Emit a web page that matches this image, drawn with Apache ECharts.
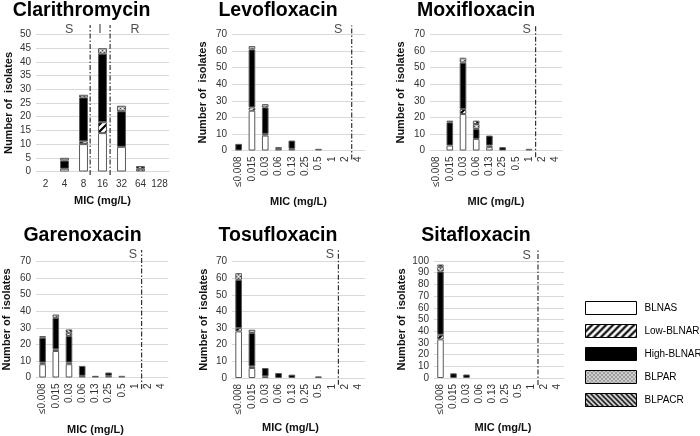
<!DOCTYPE html>
<html><head><meta charset="utf-8">
<script src="https://cdn.jsdelivr.net/npm/echarts@6/dist/echarts.min.js"></script>
<style>html,body{margin:0;padding:0;background:#fff}#c{width:700px;height:436px}</style>
</head><body><div id="c"></div>
<script>
// ---- Data ----
const typeNames = ['BLNAS', 'Low-BLNAR', 'High-BLNAR', 'BLPAR', 'BLPACR'];
const drugNames = ['Clarithromycin', 'Levofloxacin', 'Moxifloxacin', 'Garenoxacin', 'Tosufloxacin', 'Sitafloxacin'];
const clarCats = ['2', '4', '8', '16', '32', '64', '128'];
const fqCats = ['≤0.008', '0.015', '0.03', '0.06', '0.13', '0.25', '0.5', '1', '2', '4'];
const clarTicksMax = 50, clarTickStep = 5;
const fqTicksMax = 70, fqTickStep = 10;
const sitaTicksMax = 100, sitaTickStep = 10;

const clarBLNAS  = [0, 1, 10, 14, 9, 0, 0];
const clarLow    = [0, 0, 1, 4, 0, 0, 0];
const clarHigh   = [0, 3, 16, 25, 13, 0, 0];
const clarBLPAR  = [0, 1, 1, 2, 2, 1, 0];
const clarBLPACR = [0, 0, 0, 0, 0, 1, 0];

const levoBLNAS  = [0, 24, 9, 1, 1, 0, 1, 0, 0, 0];
const levoLow    = [0, 2, 1, 0, 0, 0, 0, 0, 0, 0];
const levoHigh   = [4, 35, 16, 1, 5, 0, 0, 0, 0, 0];
const levoBLPAR  = [0, 2, 2, 0, 0, 0, 0, 0, 0, 0];
const levoBLPACR = [0, 0, 0, 0, 0, 0, 0, 0, 0, 0];

const moxiBLNAS  = [0, 3, 22, 7, 2, 0, 0, 1, 0, 0];
const moxiLow    = [0, 0, 3, 0, 1, 0, 0, 0, 0, 0];
const moxiHigh   = [0, 14, 28, 6, 6, 2, 0, 0, 0, 0];
const moxiBLPAR  = [0, 1, 3, 3, 0, 0, 0, 0, 0, 0];
const moxiBLPACR = [0, 0, 0, 2, 0, 0, 0, 0, 0, 0];

const gareBLNAS  = [8, 16, 8, 1, 0, 1, 1, 0, 0, 0];
const gareLow    = [1, 1, 1, 0, 0, 0, 0, 0, 0, 0];
const gareHigh   = [15, 19, 16, 6, 1, 2, 0, 0, 0, 0];
const gareBLPAR  = [1, 2, 2, 0, 0, 0, 0, 0, 0, 0];
const gareBLPACR = [0, 0, 2, 0, 0, 0, 0, 0, 0, 0];

const tosuBLNAS  = [28, 6, 1, 0, 0, 0, 1, 0, 0, 0];
const tosuLow    = [2, 1, 0, 0, 0, 0, 0, 0, 0, 0];
const tosuHigh   = [29, 20, 5, 3, 2, 0, 0, 0, 0, 0];
const tosuBLPAR  = [4, 2, 0, 0, 0, 0, 0, 0, 0, 0];
const tosuBLPACR = [0, 0, 0, 0, 0, 0, 0, 0, 0, 0];

const sitaBLNAS  = [33, 0, 0, 0, 0, 0, 0, 0, 0, 0];
const sitaLow    = [4, 0, 0, 0, 0, 0, 0, 0, 0, 0];
const sitaHigh   = [54, 4, 3, 0, 0, 0, 0, 0, 0, 0];
const sitaBLPAR  = [4, 0, 0, 0, 0, 0, 0, 0, 0, 0];
const sitaBLPACR = [2, 0, 0, 0, 0, 0, 0, 0, 0, 0];

// breakpoint lines (position in category-boundary units) and zone labels
const clarBreaks = [2.85, 3.9];
const levoBreaks = [9];
const moxiBreaks = [8];
const gareBreaks = [8];
const tosuBreaks = [8];
const sitaBreaks = [8];
const clarZones = ['S', 'I', 'R'];
const fqZones = ['S'];

// ---- Layout (not data) ----
const layout = [
  {left: 36,  top: 34.5, w: 133, h: 137, rot: 0,  xGap: 24,   xPad: [0,0,0,0],  yGap: 22, lineLo: -1.3, lineHi: 53.5, zoneX: [1.75, 3.37, 5.21], zoneY: 51.9, tx: 81.5, ty: 11},
  {left: 232, top: 34.5, w: 133, h: 116, rot: 90, xGap: 46,   xPad: [0,0,0,0],  yGap: 24, lineLo: -5.5, lineHi: 75.4, zoneX: [7.99], zoneY: 72.8, tx: 278, ty: 11},
  {left: 430, top: 34.5, w: 132, h: 116, rot: 90, xGap: 46,   xPad: [0,0,0,0],  yGap: 24, lineLo: -4,   lineHi: 75.4, zoneX: [7.33], zoneY: 72.8, tx: 476, ty: 11},
  {left: 35,  top: 261.5, w: 133, h: 116.5, rot: 90, xGap: 46.5, xPad: [0,13,0,0], yGap: 24, lineLo: -7, lineHi: 77, zoneX: [7.35], zoneY: 73.9, tx: 82.5, ty: 236},
  {left: 232, top: 261.5, w: 133, h: 116.5, rot: 90, xGap: 44.5, xPad: [0,16,0,0], yGap: 23, lineLo: -4, lineHi: 77, zoneX: [7.37], zoneY: 73.9, tx: 278, ty: 236},
  {left: 434, top: 261, w: 130, h: 117, rot: 90, xGap: 44.5, xPad: [0,0,0,8], yGap: 27, lineLo: -6, lineHi: 109, zoneX: [7.13], zoneY: 105, tx: 476, ty: 236}
];

const panels = [
  {cats: clarCats, max: clarTicksMax, step: clarTickStep, vals: [clarBLNAS, clarLow, clarHigh, clarBLPAR, clarBLPACR], breaks: clarBreaks, zones: clarZones},
  {cats: fqCats, max: fqTicksMax, step: fqTickStep, vals: [levoBLNAS, levoLow, levoHigh, levoBLPAR, levoBLPACR], breaks: levoBreaks, zones: fqZones},
  {cats: fqCats, max: fqTicksMax, step: fqTickStep, vals: [moxiBLNAS, moxiLow, moxiHigh, moxiBLPAR, moxiBLPACR], breaks: moxiBreaks, zones: fqZones},
  {cats: fqCats, max: fqTicksMax, step: fqTickStep, vals: [gareBLNAS, gareLow, gareHigh, gareBLPAR, gareBLPACR], breaks: gareBreaks, zones: fqZones},
  {cats: fqCats, max: fqTicksMax, step: fqTickStep, vals: [tosuBLNAS, tosuLow, tosuHigh, tosuBLPAR, tosuBLPACR], breaks: tosuBreaks, zones: fqZones},
  {cats: fqCats, max: sitaTicksMax, step: sitaTickStep, vals: [sitaBLNAS, sitaLow, sitaHigh, sitaBLPAR, sitaBLPACR], breaks: sitaBreaks, zones: fqZones}
];

// ---- Patterns ----
function pat(size, draw) {
  const c = document.createElement('canvas');
  c.width = size; c.height = size;
  const g = c.getContext('2d');
  g.fillStyle = '#fff'; g.fillRect(0, 0, size, size);
  draw(g, size);
  return {image: c, repeat: 'repeat'};
}
const lowPat = pat(7, (g, s) => {
  g.strokeStyle = '#000'; g.lineWidth = 2.2; g.beginPath();
  g.moveTo(-1, s + 1); g.lineTo(s + 1, -1);
  g.moveTo(-2, 2); g.lineTo(2, -2);
  g.moveTo(s - 2, s + 2); g.lineTo(s + 2, s - 2);
  g.stroke();
});
const parPat = pat(4, (g, s) => {
  g.fillStyle = '#bdbdbd'; g.fillRect(0, 0, s, s);
  g.fillStyle = '#444'; g.fillRect(0, 0, 1, 1); g.fillRect(2, 2, 1, 1);
  g.fillStyle = '#fff'; g.fillRect(2, 0, 1, 1); g.fillRect(0, 2, 1, 1);
});
const pacrPat = pat(5, (g, s) => {
  g.strokeStyle = '#000'; g.lineWidth = 1.8; g.beginPath();
  g.moveTo(-1, -1); g.lineTo(s + 1, s + 1);
  g.moveTo(s - 2, -2); g.lineTo(s + 2, 2);
  g.moveTo(-2, s - 2); g.lineTo(2, s + 2);
  g.stroke();
});
const typeColors = ['#ffffff', lowPat, '#000000', parPat, pacrPat];

// ---- Build option ----
const grid = [], xAxis = [], yAxis = [], series = [], graphic = [];
const txtColor = '#333';
panels.forEach((p, k) => {
  const L = layout[k];
  grid.push({left: L.left, top: L.top, width: L.w, height: L.h});
  xAxis.push({
    type: 'category', gridIndex: k, data: p.cats,
    axisTick: {show: false},
    axisLine: {lineStyle: {color: '#d9d9d9'}},
    axisLabel: {interval: 0, rotate: L.rot, fontSize: 10, color: txtColor, margin: L.rot ? 6 : 8, fontFamily: 'Liberation Sans'},
    name: 'MIC (mg/L)', nameLocation: 'middle', nameGap: L.xGap,
    nameTextStyle: {fontWeight: 'bold', fontSize: 11, color: '#111', fontFamily: 'Liberation Sans', padding: L.xPad}
  });
  yAxis.push({
    type: 'value', gridIndex: k, min: 0, max: p.max, interval: p.step,
    axisLine: {show: false}, axisTick: {show: false},
    axisLabel: {fontSize: 10, color: txtColor, margin: 5, fontFamily: 'Liberation Sans'},
    splitLine: {lineStyle: {color: '#d9d9d9'}},
    name: 'Number of  isolates', nameLocation: 'middle', nameGap: L.yGap,
    nameTextStyle: {fontWeight: 'bold', fontSize: 11, color: '#111', fontFamily: 'Liberation Sans'}
  });
  p.vals.forEach((arr, t) => {
    series.push({
      type: 'bar', name: typeNames[t], xAxisIndex: k, yAxisIndex: k, stack: 'st' + k,
      barWidth: k === 0 ? '47%' : '50%',
      data: arr.map(v => v === 0 ? '-' : v),
      itemStyle: {color: typeColors[t], borderColor: '#595959', borderWidth: 1},
      emphasis: {disabled: true}
    });
  });
  graphic.push({
    type: 'text', x: L.tx, y: L.ty,
    style: {text: drugNames[k], fontSize: 19.5, fontWeight: 'bold', fontFamily: 'Liberation Sans', fill: '#000', textAlign: 'center', textVerticalAlign: 'middle'}
  });
});
// hidden value axes for breakpoint lines and zone labels
panels.forEach((p, k) => {
  const L = layout[k];
  const vi = xAxis.length;
  xAxis.push({type: 'value', gridIndex: k, min: 0, max: p.cats.length, show: false});
  p.breaks.forEach(b => {
    series.push({
      type: 'line', xAxisIndex: vi, yAxisIndex: k, clip: false, symbol: 'none', silent: true,
      data: [[b, L.lineLo], [b, L.lineHi]],
      lineStyle: {color: '#333', width: 1.2, type: [5, 2, 1.5, 2]}
    });
  });
  series.push({
    type: 'scatter', xAxisIndex: vi, yAxisIndex: k, clip: false, symbolSize: 0, silent: true,
    data: p.zones.map((z, i) => ({name: z, value: [L.zoneX[i], L.zoneY]})),
    label: {show: true, position: 'inside', formatter: '{b}', fontSize: 12.5, color: '#222', fontFamily: 'Liberation Sans'}
  });
});

const option = {
  animation: false,
  backgroundColor: '#fff',
  grid, xAxis, yAxis, series, graphic,
  legend: {
    data: typeNames, orient: 'vertical', left: 585, top: 301, padding: 0,
    itemWidth: 51, itemHeight: 13, itemGap: 9, icon: 'rect',
    itemStyle: {borderColor: '#000', borderWidth: 1},
    textStyle: {fontSize: 10, color: '#000', fontFamily: 'Liberation Sans', padding: [0, 0, 0, 3]},
    selectedMode: false
  }
};
const chart = echarts.init(document.getElementById('c'), null, {renderer: 'canvas'});
chart.setOption(option);
</script>
</body></html>
